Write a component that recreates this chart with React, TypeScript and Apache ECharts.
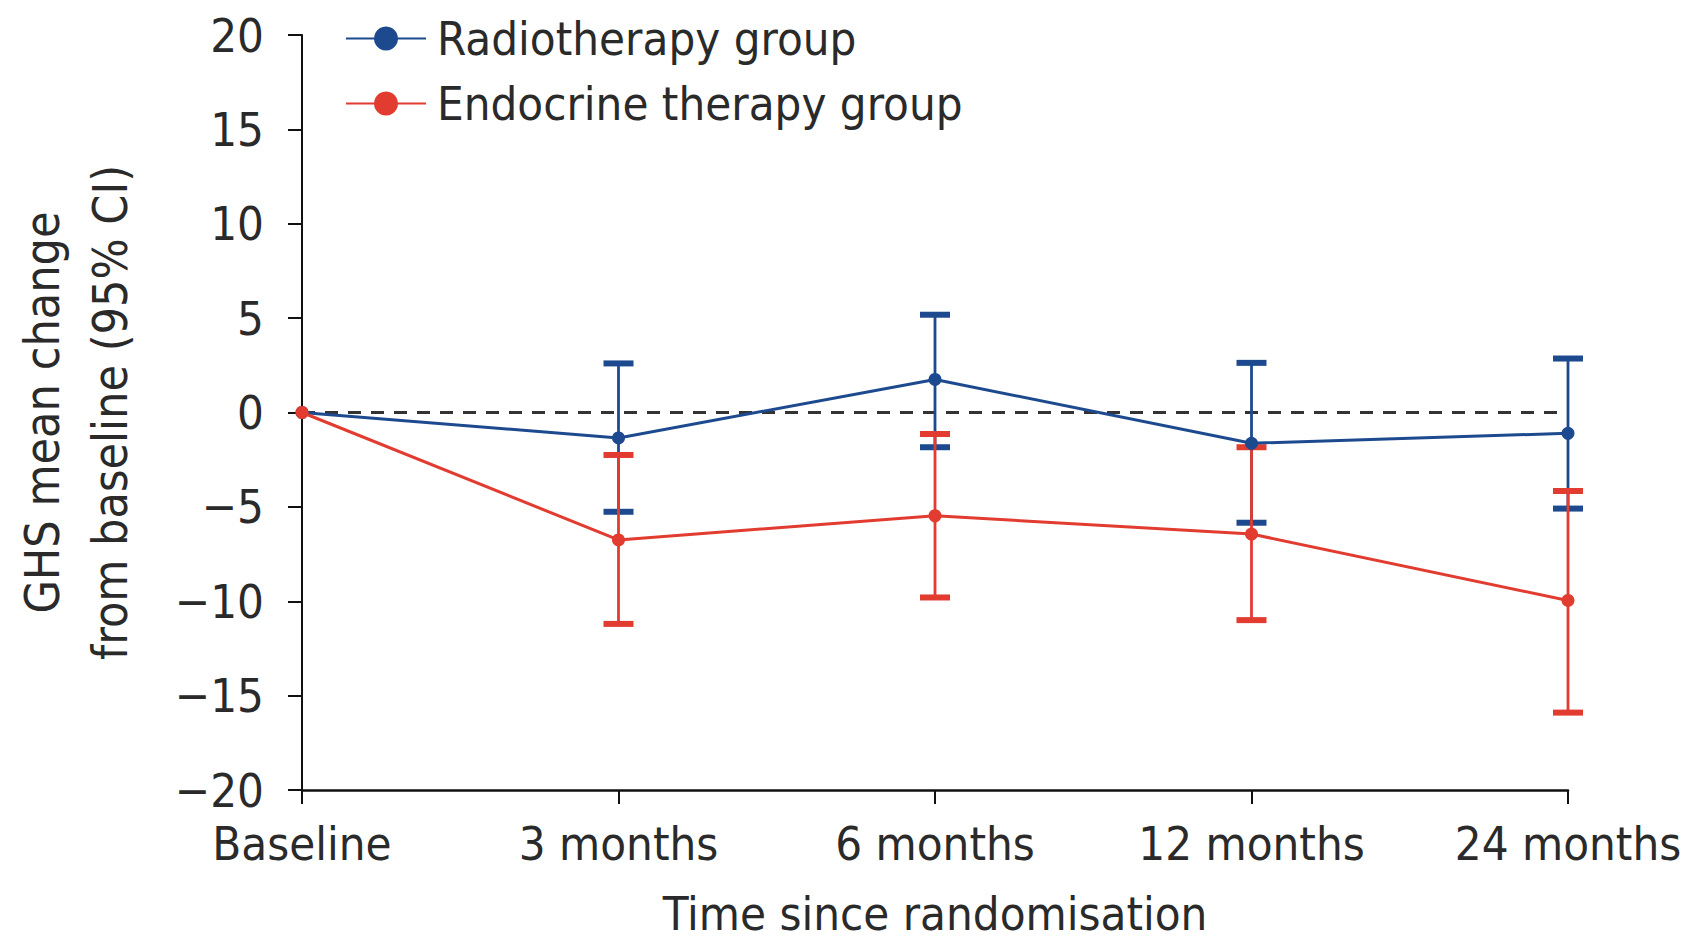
import React, { useEffect, useRef } from "react";
import * as echarts from "echarts";

const categories = ["Baseline", "3 months", "6 months", "12 months", "24 months"];
const radioMean = [0, -1.35, 1.75, -1.63, -1.1];
const radioLow = [null, -5.26, -1.84, -5.84, -5.09];
const radioHigh = [null, 2.6, 5.18, 2.63, 2.86];
const endoMean = [0, -6.75, -5.47, -6.44, -9.96];
const endoLow = [null, -11.2, -9.8, -11.0, -15.9];
const endoHigh = [null, -2.25, -1.14, -1.84, -4.16];
const referenceValue = 0;
const yTicks = { min: -20, max: 20, interval: 5 };

const BLUE = "#1d4a8f";
const RED = "#e23b30";
const FONT = "'DejaVu Sans Condensed', 'DejaVu Sans', sans-serif";
const TEXT = "#2a2a2a";

function errData(low: (number | null)[], high: (number | null)[]) {
  const out: number[][] = [];
  low.forEach((l, i) => {
    const h = high[i];
    if (l !== null && h !== null) out.push([i, l, h]);
  });
  return out;
}

function errSeries(name: string, color: string, data: number[][]) {
  return {
    type: "custom",
    name: name + " CI",
    z: 3,
    silent: true,
    data,
    renderItem: (params: any, api: any) => {
      const x = api.value(0);
      const pLo = api.coord([x, api.value(1)]);
      const pHi = api.coord([x, api.value(2)]);
      const w = 30;
      const h = 6;
      return {
        type: "group",
        children: [
          {
            type: "line",
            shape: { x1: pLo[0], y1: pLo[1], x2: pHi[0], y2: pHi[1] },
            style: { stroke: color, lineWidth: 2.8 },
          },
          {
            type: "rect",
            shape: { x: pHi[0] - w / 2, y: pHi[1] - h / 2, width: w, height: h },
            style: { fill: color },
          },
          {
            type: "rect",
            shape: { x: pLo[0] - w / 2, y: pLo[1] - h / 2, width: w, height: h },
            style: { fill: color },
          },
        ],
      };
    },
  };
}

export default function App() {
  const ref = useRef<HTMLDivElement>(null);
  useEffect(() => {
    if (!ref.current) return;
    const chart = echarts.init(ref.current, undefined, { renderer: "svg" });
    chart.setOption({
      animation: false,
      backgroundColor: "#ffffff",
      textStyle: { fontFamily: FONT },
      grid: { left: 297, right: 131, top: 35, bottom: 152, containLabel: false },
      legend: {
        orient: "vertical",
        left: 340,
        top: 10,
        itemWidth: 80,
        itemHeight: 30,
        itemGap: 18,
        data: ["Radiotherapy group", "Endocrine therapy group"],
        textStyle: { fontSize: 47, color: TEXT, fontFamily: FONT, padding: [0, 0, 0, 6] },
      },
      xAxis: {
        type: "category",
        data: categories,
        boundaryGap: false,
        name: "Time since randomisation",
        nameLocation: "middle",
        nameGap: 100,
        nameTextStyle: { fontSize: 47, color: TEXT, fontFamily: FONT },
        axisLine: { onZero: false, lineStyle: { color: "#111", width: 2.5 } },
        axisTick: { show: true, length: 14, lineStyle: { color: "#111", width: 2 } },
        axisLabel: { fontSize: 47, color: TEXT, margin: 30, fontFamily: FONT },
        splitLine: { show: false },
      },
      yAxis: {
        type: "value",
        min: yTicks.min,
        max: yTicks.max,
        interval: yTicks.interval,
        name: "GHS mean change\nfrom baseline (95% CI)",
        nameLocation: "middle",
        nameGap: 158,
        nameTextStyle: { fontSize: 48, color: TEXT, lineHeight: 68, fontFamily: FONT },
        axisLine: { show: true, onZero: false, lineStyle: { color: "#111", width: 2 } },
        axisTick: { show: true, length: 14, lineStyle: { color: "#111", width: 2 } },
        axisLabel: {
          fontSize: 47,
          color: TEXT,
          margin: 38,
          fontFamily: FONT,
          formatter: (v: number) => String(v).replace("-", "\u2212"),
        },
        splitLine: { show: false },
      },
      series: [
        errSeries("Radiotherapy group", BLUE, errData(radioLow, radioHigh)),
        errSeries("Endocrine therapy group", RED, errData(endoLow, endoHigh)),
        {
          type: "line",
          name: "Radiotherapy group",
          data: radioMean,
          symbol: "circle",
          symbolSize: 13,
          z: 4,
          color: BLUE,
          lineStyle: { color: BLUE, width: 3 },
          itemStyle: { color: BLUE },
          markLine: {
            silent: true,
            symbol: "none",
            z: 1,
            label: { show: false },
            lineStyle: { color: "#333333", width: 3, type: [13, 10] },
            data: [{ yAxis: referenceValue }],
          },
        },
        {
          type: "line",
          name: "Endocrine therapy group",
          data: endoMean,
          symbol: "circle",
          symbolSize: 13,
          z: 5,
          color: RED,
          lineStyle: { color: RED, width: 3 },
          itemStyle: { color: RED },
        },
      ],
    });
    return () => chart.dispose();
  }, []);
  return (
    <div
      ref={ref}
      style={{ position: "fixed", left: 0, top: 0, width: 1699, height: 942 }}
    />
  );
}
